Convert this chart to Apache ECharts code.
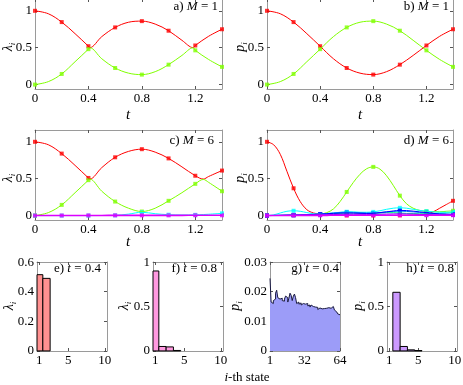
<!DOCTYPE html>
<html><head><meta charset="utf-8">
<script src="https://cdn.jsdelivr.net/npm/echarts@6/dist/echarts.min.js"></script>
<style>html,body{margin:0;padding:0;background:#fff}#c{width:463px;height:385px}</style>
</head><body><div id="c"></div>
<script>
// ---------- Panel a (lambda, M=1) ----------
const tA    = [0,0.1,0.2,0.3,0.4,0.41,0.5,0.6,0.7,0.8,0.9,1.0,1.1,1.185,1.2,1.3,1.4];
const lamA1 = [1.0,0.96,0.847,0.69,0.52,0.5,0.65,0.775,0.845,0.86,0.82,0.73,0.6,0.5,0.53,0.655,0.75];
const lamA2 = [0,0.04,0.144,0.31,0.48,0.5,0.35,0.225,0.155,0.135,0.175,0.27,0.395,0.5,0.464,0.34,0.24];
// ---------- Panel b (p, M=1) ----------
const tB  = [0,0.1,0.2,0.3,0.4,0.5,0.6,0.7,0.8,0.9,1.0,1.1,1.2,1.3,1.4];
const pB1 = [1.0,0.96,0.847,0.69,0.52,0.35,0.225,0.155,0.135,0.175,0.27,0.395,0.53,0.655,0.75];
const pB2 = [0,0.04,0.144,0.31,0.48,0.65,0.775,0.845,0.86,0.82,0.73,0.6,0.464,0.34,0.24];
// ---------- Panel c (lambda, M=6) ----------
const tC    = [0,0.1,0.2,0.3,0.4,0.41,0.5,0.6,0.7,0.8,0.9,1.0,1.1,1.2,1.26,1.3,1.4];
const lamC1 = [1.0,0.96,0.84,0.68,0.51,0.495,0.65,0.79,0.87,0.9,0.86,0.775,0.66,0.54,0.495,0.53,0.61];
const lamC2 = [0,0.04,0.145,0.31,0.48,0.495,0.33,0.19,0.1,0.055,0.1,0.2,0.31,0.43,0.49,0.45,0.33];
const lamC3 = [0,0,0,0,0,0,0.001,0.003,0.02,0.045,0.025,0.012,0.008,0.01,0.014,0.018,0.03];
const lamC4 = [0,0.001,0.001,0.002,0.002,0.002,0.002,0.003,0.003,0.003,0.003,0.003,0.003,0.004,0.004,0.004,0.004];
// ---------- Panel d (p, M=6) ----------
const tD = [0,0.05,0.1,0.15,0.2,0.25,0.3,0.35,0.4,0.45,0.5,0.55,0.6,0.65,0.7,0.75,0.8,0.85,0.9,0.95,1.0,1.05,1.1,1.15,1.2,1.25,1.3,1.35,1.4];
const pD1 = [1.0,0.96,0.83,0.6,0.37,0.19,0.08,0.035,0.02,0.01,0.005,0.003,0.002,0.002,0.002,0.002,0.002,0.002,0.002,0.002,0.003,0.004,0.006,0.01,0.02,0.05,0.1,0.15,0.2];
const pD2 = [0,0.001,0.002,0.004,0.006,0.008,0.01,0.015,0.02,0.04,0.09,0.19,0.32,0.45,0.56,0.635,0.66,0.63,0.54,0.41,0.27,0.16,0.1,0.07,0.058,0.052,0.052,0.058,0.065];
const pD3 = [0,0,0.001,0.002,0.004,0.006,0.008,0.01,0.015,0.02,0.025,0.03,0.035,0.035,0.03,0.028,0.03,0.035,0.04,0.04,0.035,0.03,0.028,0.025,0.025,0.028,0.032,0.038,0.045];
const pD4 = [0,0.01,0.035,0.058,0.065,0.058,0.04,0.025,0.02,0.025,0.035,0.045,0.052,0.05,0.045,0.045,0.05,0.065,0.085,0.1,0.105,0.1,0.085,0.07,0.06,0.05,0.045,0.045,0.05];
const pD5 = [0,0.003,0.006,0.008,0.01,0.012,0.014,0.017,0.02,0.028,0.035,0.042,0.045,0.043,0.04,0.036,0.035,0.04,0.05,0.057,0.06,0.056,0.05,0.042,0.035,0.03,0.025,0.022,0.02];
const pD6 = [0,0.001,0.002,0.004,0.005,0.007,0.01,0.015,0.02,0.025,0.03,0.033,0.035,0.033,0.03,0.028,0.03,0.04,0.05,0.062,0.07,0.068,0.06,0.05,0.04,0.03,0.02,0.017,0.015];
const pD7 = [0,0.001,0.002,0.003,0.004,0.005,0.006,0.008,0.01,0.012,0.014,0.016,0.018,0.018,0.017,0.016,0.016,0.018,0.02,0.022,0.024,0.022,0.02,0.017,0.014,0.012,0.01,0.009,0.008];
const pD8 = [0,0.001,0.002,0.002,0.003,0.003,0.003,0.003,0.003,0.003,0.004,0.004,0.004,0.004,0.004,0.004,0.004,0.004,0.004,0.004,0.005,0.005,0.005,0.005,0.005,0.005,0.005,0.005,0.005];
// ---------- Bottom histograms ----------
const states10 = [1,2,3,4,5,6,7,8,9,10];
const barsE = [0.515,0.49,0,0,0,0,0,0,0,0];
const barsF = [0.9,0.05,0.045,0.005,0,0,0,0,0,0];
const barsH = [0,0.66,0.05,0.012,0.004,0,0,0,0,0];
const states64 = Array.from({length:64},(_,i)=>i+1);
const barsG = [0.0245,0.0165,0.016,0.017,0.0175,0.0195,0.0205,0.018,0.0175,0.0172,0.0178,0.017,0.0168,0.0175,0.0185,0.018,
  0.0165,0.0178,0.0195,0.0188,0.017,0.0185,0.0192,0.018,0.016,0.0165,0.0158,0.0162,0.0155,0.016,0.0165,0.0158,
  0.0155,0.016,0.0152,0.0155,0.0148,0.0155,0.015,0.0145,0.0148,0.0143,0.0147,0.014,0.0145,0.0148,0.0142,0.0138,
  0.0143,0.0146,0.0144,0.014,0.0146,0.0148,0.0144,0.0149,0.015,0.0145,0.0138,0.0132,0.013,0.0125,0.0122,0.012];
// ticks
const tTicks = [0,0.4,0.8,1.2];
const yTicksTop = [0,0.5,1];
const sTicks10 = [1,5,10];
const sTicks64 = [1,32,64];
const yTicksE = [0,0.2,0.4,0.6];
const yTicks01 = [0,0.5,1];
const yTicksG = [0,0.01,0.02,0.03];

const FONT = 'Liberation Serif';
const FRAME = '#9a9a9a';
const TICKC = '#555';
const grids = [], xAxes = [], yAxes = [], series = [];

function axisBase(gi, range, ticks, pos, showLabel) {
  return {
    type: 'value', gridIndex: gi, position: pos, min: range[0], max: range[1],
    splitLine: {show: false},
    axisLine: {show: true, onZero: false, lineStyle: {color: FRAME, width: 1}},
    axisTick: {show: true, inside: true, length: 3, customValues: ticks, lineStyle: {color: TICKC, width: 1}},
    axisLabel: {show: showLabel, customValues: ticks, fontFamily: FONT, fontSize: 13, color: '#000', margin: 3,
      hideOverlap: false, formatter: v => String(+v.toFixed(4))},
    name: ''
  };
}
function addPanel(g, xr, xt, yr, yt) {
  const gi = grids.length;
  grids.push({left: g[0], top: g[1], width: g[2], height: g[3], containLabel: false, outerBoundsMode: 'none'});
  const xi = xAxes.length, yi = yAxes.length;
  xAxes.push(axisBase(gi, xr, xt, 'bottom', true));
  xAxes.push(axisBase(gi, xr, xt, 'top', false));
  yAxes.push(axisBase(gi, yr, yt, 'left', true));
  yAxes.push(axisBase(gi, yr, yt, 'right', false));
  return {x: xi, y: yi};
}
function isMarker(t) { return Math.abs(t * 5 - Math.round(t * 5)) < 1e-6; }
function addCurve(ax, ts, vs, color, width) {
  const data = ts.map((t, i) => [t, vs[i]]);
  series.push({type: 'line', xAxisIndex: ax.x, yAxisIndex: ax.y, data, smooth: 0.35,
    showSymbol: false, symbol: 'none', lineStyle: {color, width: width || 1}, animation: false, silent: true});
  series.push({type: 'scatter', xAxisIndex: ax.x, yAxisIndex: ax.y, data: data.filter(d => isMarker(d[0])),
    symbol: 'rect', symbolSize: 4, itemStyle: {color}, animation: false, silent: true});
}
function addBars(ax, xs, vs, fill) {
  series.push({type: 'custom', xAxisIndex: ax.x, yAxisIndex: ax.y, data: xs.map((x, i) => [x, vs[i]]),
    animation: false, silent: true,
    renderItem: function (params, api) {
      const x = api.value(0), v = api.value(1);
      if (!(v > 0)) return null;
      const p0 = api.coord([x - 0.5, v]), p1 = api.coord([x + 0.5, 0]);
      const cs = params.coordSys;
      const r = echarts.graphic.clipRectByRect(
        {x: p0[0], y: p0[1], width: p1[0] - p0[0], height: p1[1] - p0[1]},
        {x: cs.x, y: cs.y, width: cs.width, height: cs.height});
      if (!r) return null;
      return {type: 'rect', shape: r, style: {fill, stroke: '#000', lineWidth: 1}};
    }});
}

const yrTop = [-0.06, 1.16];
const RED = '#ff0000', GRN = '#80ff00', CYA = '#00ffff', MAG = '#dd00ff';

const aA = addPanel([35, -1, 187, 90], [0, 1.4], tTicks, yrTop, yTicksTop);
addCurve(aA, tA, lamA1, RED); addCurve(aA, tA, lamA2, GRN);
const aB = addPanel([267, -1, 186, 90], [0, 1.4], tTicks, yrTop, yTicksTop);
addCurve(aB, tB, pB1, RED); addCurve(aB, tB, pB2, GRN);
const aC = addPanel([35, 130, 187, 90], [0, 1.4], tTicks, yrTop, yTicksTop);
addCurve(aC, tC, lamC1, RED); addCurve(aC, tC, lamC2, GRN); addCurve(aC, tC, lamC3, CYA); addCurve(aC, tC, lamC4, MAG, 1.6);
const aD = addPanel([267, 130, 186, 90], [0, 1.4], tTicks, yrTop, yTicksTop);
addCurve(aD, tD, pD1, RED); addCurve(aD, tD, pD2, GRN); addCurve(aD, tD, pD3, '#00ff80');
addCurve(aD, tD, pD4, CYA); addCurve(aD, tD, pD5, '#0080ff'); addCurve(aD, tD, pD6, '#0000ff');
addCurve(aD, tD, pD7, '#8000ff'); addCurve(aD, tD, pD8, MAG, 1.6);

// y ranges padded by a hair so the end ticks sit just inside the axis extent
const aE = addPanel([37, 262, 70, 89], [0.7, 10.3], sTicks10, [-0.0006, 0.6006], yTicksE);
addBars(aE, states10, barsE, '#ff9090');
const aF = addPanel([153, 262, 70, 89], [0.7, 10.3], sTicks10, [-0.001, 1.001], yTicks01);
addBars(aF, states10, barsF, '#ff99e0');
const aG = addPanel([270, 262, 70, 89], [1, 64], sTicks64, [-0.00003, 0.03003], yTicksG);
series.push({type: 'line', xAxisIndex: aG.x, yAxisIndex: aG.y, data: states64.map((s, i) => [s, barsG[i]]),
  step: 'end', showSymbol: false, symbol: 'none', lineStyle: {color: '#1a1a40', width: 1},
  areaStyle: {color: '#9c9cf8', opacity: 1, origin: 'start'}, animation: false, silent: true});
const aH = addPanel([387, 262, 70, 89], [0.7, 10.3], sTicks10, [-0.001, 1.001], yTicks01);
addBars(aH, states10, barsH, '#cc99ff');

const RICH = {
  r: {fontFamily: FONT, fontSize: 13, fill: '#000'},
  i: {fontFamily: FONT, fontSize: 13, fontStyle: 'italic', fill: '#000'},
  l: {fontFamily: FONT, fontSize: 14, fontStyle: 'italic', fill: '#000', lineHeight: 14},
  s: {fontFamily: FONT, fontSize: 9, fontStyle: 'italic', fill: '#000', lineHeight: 18, verticalAlign: 'bottom'},
  t: {fontFamily: FONT, fontSize: 15, fontStyle: 'italic', fill: '#000'}
};
function txt(x, y, text, align, rot) {
  return {type: 'text', x, y, rotation: rot || 0, z: 100, silent: true,
    style: {text, align: align || 'center', verticalAlign: 'middle', rich: RICH}};
}
function panelLabel(x, y, pre, v, val) {
  return txt(x, y, '{r|' + pre + ') }{i|' + v + '}{r| = ' + val + '}', 'right');
}
const LAM = '{l|λ}{s|i}', P = '{l|p}{s|i}';
const R90 = Math.PI / 2;
const graphics = [
  panelLabel(218, 7, 'a', 'M', '1'), panelLabel(449, 7, 'b', 'M', '1'),
  panelLabel(214, 141, 'c', 'M', '6'), panelLabel(449, 141, 'd', 'M', '6'),
  panelLabel(101, 269, 'e', 't', '0.4'), panelLabel(217, 269, 'f', 't', '0.8'),
  panelLabel(339, 269, 'g', 't', '0.4'), panelLabel(454, 269, 'h', 't', '0.8'),
  txt(8, 47, LAM, 'center', R90), txt(240, 47, P, 'center', R90),
  txt(8, 178, LAM, 'center', R90), txt(240, 178, P, 'center', R90),
  txt(9, 306, LAM, 'center', R90), txt(124, 306, LAM, 'center', R90),
  txt(235, 306, P, 'center', R90), txt(358, 306, P, 'center', R90),
  txt(128, 115, '{t|t}'), txt(360, 115, '{t|t}'),
  txt(128, 242, '{t|t}'), txt(360, 242, '{t|t}'),
  txt(247, 378, '{i|i}{r|-th state}')
];

const chart = echarts.init(document.getElementById('c'), null, {renderer: 'canvas'});
chart.setOption({
  animation: false, backgroundColor: '#fff',
  textStyle: {fontFamily: FONT},
  grid: grids, xAxis: xAxes, yAxis: yAxes, series, graphic: graphics
});
</script></body></html>
